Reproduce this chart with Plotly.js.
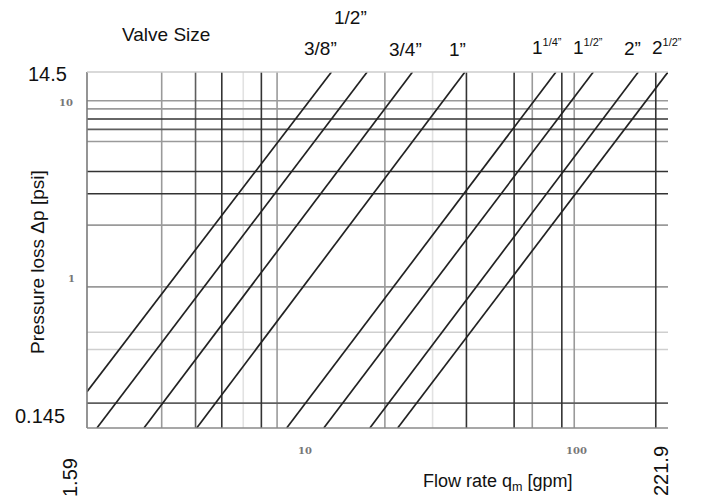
<!DOCTYPE html>
<html><head><meta charset="utf-8">
<script src="https://cdn.plot.ly/plotly-3.0.1.min.js"></script>
<style>html,body{margin:0;padding:0;background:#fff}</style>
</head><body><div id="chart" style="width:703px;height:502px"></div>
<script>
// ---- data ----
const valveSizes = ['3/8”', '1/2”', '3/4”', '1”', '1<sup><span style="font-size:11px">1/4”</span></sup>', '1<sup><span style="font-size:11px">1/2”</span></sup>', '2”', '2<sup><span style="font-size:11px">1/2”</span></sup>'];
// each valve curve: lower and upper end points (flow in gpm, pressure loss in psi)
const flowLow  = [1.59, 1.73, 2.58, 4.04, 8.68, 11.9, 17.6, 22.3];
const dpLow    = [0.232, 0.145, 0.145, 0.145, 0.145, 0.145, 0.145, 0.145];
const flowHigh = [12.7, 17.2, 25.3, 39.5, 85.6, 117.6, 172.4, 221.9];
const dpHigh   = [14.5, 14.5, 14.5, 14.5, 14.5, 14.5, 14.5, 14.5];

const flowRange = [1.59, 221.9];
const dpRange = [0.145, 14.5];

// grid values (gpm / psi), grouped by how strongly they were printed
const gridFlowDark  = [5, 7, 40, 60, 90, 200];
const gridFlowMid   = [4];
const gridFlowLight = [3, 8, 20, 70, 100];
const gridFlowFaint = [6, 30];
const gridDpDark  = [7.9, 4, 3];
const gridDpMid   = [6.9, 0.2];
const gridDpLight = [10, 9, 5.9, 2, 0.9];
const gridDpFaint = [0.5, 0.4];

// ---- layout helpers ----
const W = 703, H = 502, L = 87, R = 668, T = 72, B = 428;
const px = x => (x - L) / (R - L);
const py = y => (B - y) / (B - T);
const FONT = 'Liberation Sans, Arial, sans-serif';

const traces = valveSizes.map((name, i) => ({
  type: 'scatter', mode: 'lines', name: name,
  x: [flowLow[i], flowHigh[i]], y: [dpLow[i], dpHigh[i]],
  line: {color: '#222222', width: 1.7}, hoverinfo: 'skip', showlegend: false
}));

const shapes = [];
function vlines(vals, color){ vals.forEach(v => shapes.push({type:'line', xref:'x', yref:'paper', x0:v, x1:v, y0:0, y1:1, line:{color:color, width:1.6}, layer:'below'})); }
function hlines(vals, color){ vals.forEach(v => shapes.push({type:'line', xref:'paper', yref:'y', x0:0, x1:1, y0:v, y1:v, line:{color:color, width:1.6}, layer:'below'})); }
vlines(gridFlowFaint, '#e2e2e2'); hlines(gridDpFaint, '#cfcfcf');
vlines(gridFlowLight, '#9a9a9a'); hlines(gridDpLight, '#9a9a9a');
vlines(gridFlowMid, '#5e5e5e'); hlines(gridDpMid, '#5e5e5e');
vlines(gridFlowDark, '#333333'); hlines(gridDpDark, '#333333');
// frame
shapes.push({type:'line', xref:'paper', yref:'paper', x0:0, x1:0, y0:0, y1:1, line:{color:'#7a7a7a', width:1.6}});
shapes.push({type:'line', xref:'paper', yref:'paper', x0:0, x1:1, y0:0, y1:0, line:{color:'#8a8a8a', width:1.6}});
shapes.push({type:'line', xref:'paper', yref:'paper', x0:0, x1:1, y0:1, y1:1, line:{color:'#cccccc', width:1.6}});

const labelPos = [[320,49],[350,18],[405,50],[458,50],[547,47],[588,47],[632,48],[667,47]];
const ann = valveSizes.map((s, i) => ({
  xref:'paper', yref:'paper', x:px(labelPos[i][0]), y:py(labelPos[i][1]),
  text:s, showarrow:false, xanchor:'center', yanchor:'middle',
  font:{family:FONT, size:19, color:'#111'}
}));
function txt(t, x, y, opts){ ann.push(Object.assign({xref:'paper', yref:'paper', x:px(x), y:py(y), text:t, showarrow:false, xanchor:'center', yanchor:'middle', font:{family:FONT, size:19, color:'#111'}}, opts||{})); }
txt('Valve Size', 166, 34);
txt(String(dpRange[1]), 47, 74, {font:{family:FONT, size:20, color:'#111'}});
txt(String(dpRange[0]), 40, 416, {font:{family:FONT, size:20, color:'#111'}});
txt(String(flowRange[0]), 70, 478, {textangle:-90, font:{family:FONT, size:20, color:'#111'}});
txt(String(flowRange[1]), 661, 471, {textangle:-90, font:{family:FONT, size:20, color:'#111'}});
txt('Flow rate q<sub>m</sub> [gpm]', 498, 482, {font:{family:FONT, size:18, color:'#111'}});
txt('Pressure loss Δp [psi]', 37, 262, {textangle:-90, font:{family:FONT, size:19, color:'#111'}});
// faint remnants of original tick labels
const faint = {family:'DejaVu Serif, serif', size:10, color:'#777'};
txt('<b>10</b>', 305, 450, {font:faint});
txt('<b>100</b>', 576, 450, {font:faint});
txt('<b>10</b>', 66, 102, {font:faint});
txt('<b>1</b>', 71, 278, {font:faint});

const layout = {
  width: W, height: H,
  margin: {l: L, r: W - R, t: T, b: H - B, pad: 0},
  paper_bgcolor: '#fff', plot_bgcolor: '#fff',
  xaxis: {type:'log', range:[Math.log10(flowRange[0]), Math.log10(flowRange[1])], showgrid:false, zeroline:false, showticklabels:false, ticks:'', showline:false},
  yaxis: {type:'log', range:[Math.log10(dpRange[0]), Math.log10(dpRange[1])], showgrid:false, zeroline:false, showticklabels:false, ticks:'', showline:false},
  shapes: shapes, annotations: ann, showlegend: false
};
Plotly.newPlot('chart', traces, layout, {displayModeBar:false, staticPlot:true});
</script></body></html>
